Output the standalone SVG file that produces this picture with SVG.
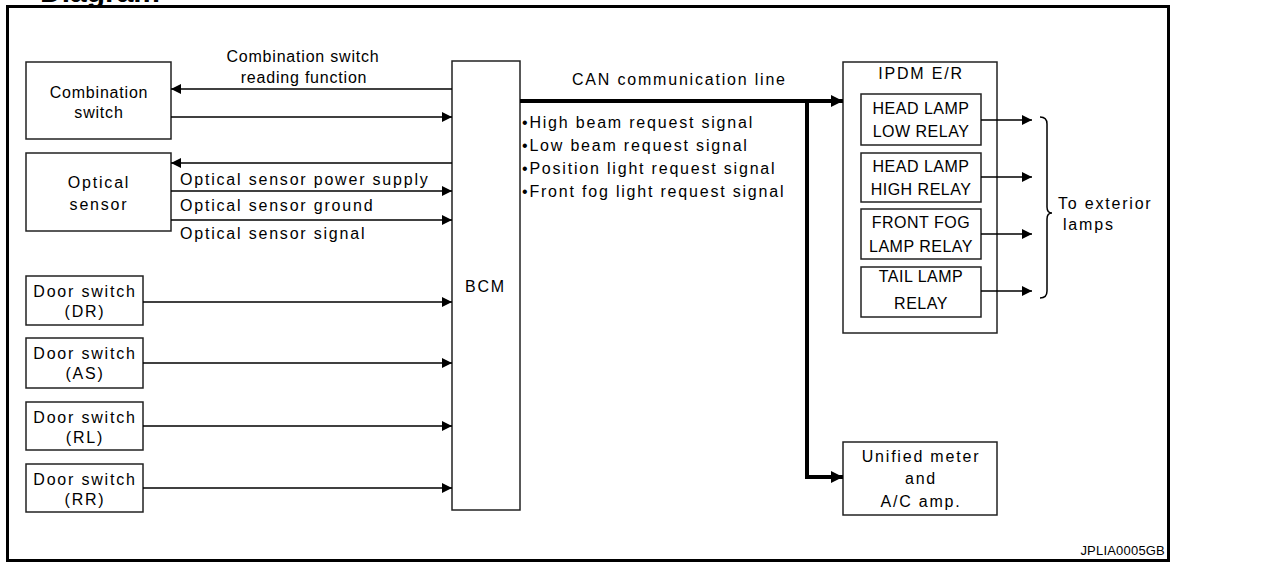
<svg xmlns="http://www.w3.org/2000/svg" width="1277" height="562" viewBox="0 0 1277 562">
<style>
text{font-family:"Liberation Sans",Arial,sans-serif;font-size:16px;fill:#000;letter-spacing:1.8px}
.box{fill:#fff;stroke:#222;stroke-width:1.5}
.ln{fill:none;stroke:#000;stroke-width:1.5}
.can{fill:none;stroke:#000;stroke-width:4;stroke-linejoin:miter}
.c{text-anchor:middle}
.tight{letter-spacing:0.8px}
.relay{letter-spacing:0.5px}
</style>
<defs>
<marker id="arr" viewBox="0 0 10 10" refX="10" refY="5" markerWidth="10" markerHeight="10" markerUnits="userSpaceOnUse" orient="auto"><path d="M0,0 L10,5 L0,10 z" fill="#000"/></marker>
<marker id="arrB" viewBox="0 0 12 12" refX="12" refY="6" markerWidth="12" markerHeight="12" markerUnits="userSpaceOnUse" orient="auto"><path d="M0,0 L12,6 L0,12 z" fill="#000"/></marker>
</defs>
<rect width="1277" height="562" fill="#fff"/>
<text x="40" y="2" style="font-size:30px;font-weight:bold;letter-spacing:0">Diagram</text>
<rect x="7.5" y="6.5" width="1161" height="554" fill="none" stroke="#000" stroke-width="3"/>

<g id="combination-switch">
<rect class="box" x="26" y="62" width="145" height="77"/>
<text class="c tight" x="99" y="98">Combination</text>
<text class="c tight" x="99" y="118">switch</text>
</g>
<g id="optical-sensor">
<rect class="box" x="26" y="153" width="145" height="78"/>
<text class="c" x="99" y="188">Optical</text>
<text class="c" x="99" y="210">sensor</text>
</g>
<g id="door-dr">
<rect class="box" x="26" y="276" width="117" height="49"/>
<text class="c" x="85" y="297">Door switch</text>
<text class="c" x="85" y="317">(DR)</text>
</g>
<g id="door-as">
<rect class="box" x="26" y="338" width="117" height="50"/>
<text class="c" x="85" y="359">Door switch</text>
<text class="c" x="85" y="379">(AS)</text>
</g>
<g id="door-rl">
<rect class="box" x="26" y="402" width="117" height="48"/>
<text class="c" x="85" y="423">Door switch</text>
<text class="c" x="85" y="443">(RL)</text>
</g>
<g id="door-rr">
<rect class="box" x="26" y="464" width="117" height="48"/>
<text class="c" x="85" y="485">Door switch</text>
<text class="c" x="85" y="505">(RR)</text>
</g>
<g id="bcm">
<rect class="box" x="452" y="61" width="68" height="449"/>
<text x="465" y="292">BCM</text>
</g>
<g id="ipdm">
<rect class="box" x="843" y="62" width="154" height="271"/>
<text class="c" x="921" y="79">IPDM E/R</text>
<g id="relay-low">
<rect class="box" x="861" y="94" width="120" height="51"/>
<text class="c relay" x="921" y="114">HEAD LAMP</text>
<text class="c relay" x="921" y="137">LOW RELAY</text>
</g>
<g id="relay-high">
<rect class="box" x="861" y="153" width="120" height="49"/>
<text class="c relay" x="921" y="172">HEAD LAMP</text>
<text class="c relay" x="921" y="195">HIGH RELAY</text>
</g>
<g id="relay-fog">
<rect class="box" x="861" y="209" width="120" height="50"/>
<text class="c relay" x="921" y="228">FRONT FOG</text>
<text class="c relay" x="921" y="252">LAMP RELAY</text>
</g>
<g id="relay-tail">
<rect class="box" x="861" y="267" width="120" height="50"/>
<text class="c relay" x="921" y="282">TAIL LAMP</text>
<text class="c relay" x="921" y="309">RELAY</text>
</g>
</g>
<g id="meter">
<rect class="box" x="843" y="442" width="154" height="73"/>
<text class="c" x="921" y="462">Unified meter</text>
<text class="c" x="921" y="484">and</text>
<text class="c" x="921" y="507">A/C amp.</text>
</g>
<g id="exterior-lamps">
<path class="ln" d="M1040,117 Q1047,117 1047,124 L1047,207 Q1047,213 1052,213 Q1047,213 1047,219 L1047,291 Q1047,298 1040,298"/>
<text x="1058" y="209">To exterior</text>
<text x="1063" y="230">lamps</text>
</g>

<g id="connectors">
<line class="ln" x1="452" y1="89" x2="171" y2="89" marker-end="url(#arr)"/>
<line class="ln" x1="171" y1="117" x2="452" y2="117" marker-end="url(#arr)"/>
<line class="ln" x1="452" y1="163" x2="171" y2="163" marker-end="url(#arr)"/>
<line class="ln" x1="171" y1="191" x2="452" y2="191" marker-end="url(#arr)"/>
<line class="ln" x1="171" y1="220" x2="452" y2="220" marker-end="url(#arr)"/>
<line class="ln" x1="143" y1="302" x2="452" y2="302" marker-end="url(#arr)"/>
<line class="ln" x1="143" y1="363" x2="452" y2="363" marker-end="url(#arr)"/>
<line class="ln" x1="143" y1="426" x2="452" y2="426" marker-end="url(#arr)"/>
<line class="ln" x1="143" y1="488" x2="452" y2="488" marker-end="url(#arr)"/>
<line class="can" x1="520" y1="101" x2="843" y2="101" marker-end="url(#arrB)"/>
<polyline class="can" points="807,101 807,477 843,477" marker-end="url(#arrB)"/>
<line class="ln" x1="981" y1="120" x2="1032" y2="120" marker-end="url(#arr)"/>
<line class="ln" x1="981" y1="177" x2="1032" y2="177" marker-end="url(#arr)"/>
<line class="ln" x1="981" y1="234" x2="1032" y2="234" marker-end="url(#arr)"/>
<line class="ln" x1="981" y1="291" x2="1032" y2="291" marker-end="url(#arr)"/>
<text class="c tight" x="303" y="62">Combination switch</text>
<text class="c tight" x="304" y="83">reading function</text>
<text x="180" y="185">Optical sensor power supply</text>
<text x="180" y="211">Optical sensor ground</text>
<text x="180" y="239">Optical sensor signal</text>
<text x="572" y="85">CAN communication line</text>
<text x="522" y="128">•High beam request signal</text>
<text x="522" y="151">•Low beam request signal</text>
<text x="522" y="174">•Position light request signal</text>
<text x="522" y="197">•Front fog light request signal</text>
</g>
<text x="1165" y="555" style="font-size:13px;letter-spacing:0.2px;text-anchor:end">JPLIA0005GB</text>
</svg>
